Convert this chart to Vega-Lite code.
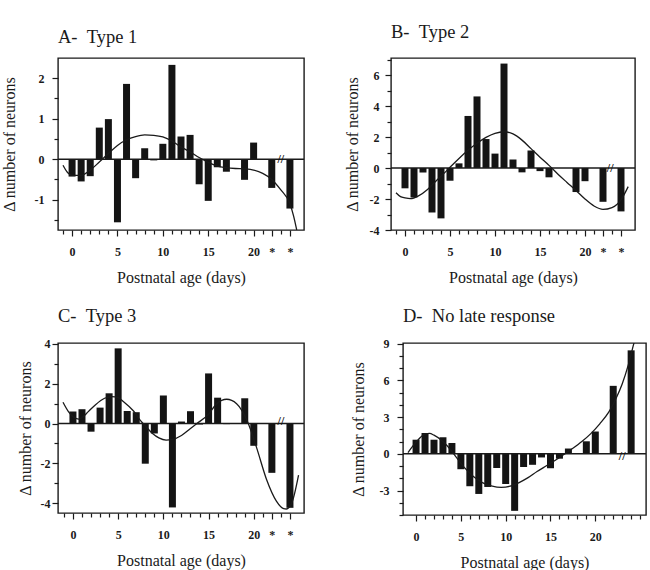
{
  "$schema": "https://vega.github.io/schema/vega-lite/v6.json",
  "background": "white",
  "padding": {"top": 22, "left": 0, "right": 0, "bottom": 0},
  "config": {
    "font": "Liberation Serif",
    "view": {"stroke": "#1a1a1a", "strokeWidth": 1.4},
    "axis": {
      "domain": false,
      "grid": false,
      "tickCount": 100,
      "tickColor": "#1a1a1a",
      "tickWidth": 1.2,
      "labelFont": "Liberation Serif",
      "labelFontSize": 12,
      "labelFontWeight": "bold",
      "labelColor": "#1a1a1a",
      "labelOverlap": false,
      "titleFont": "Liberation Serif",
      "titleFontSize": 16,
      "titleFontWeight": "normal",
      "titleColor": "#1a1a1a"
    },
    "axisX": {"titlePadding": 12, "labelPadding": 10, "labelAngle": 0, "labelFlush": false},
    "title": {
      "font": "Liberation Serif",
      "fontSize": 18.5,
      "fontWeight": "normal",
      "color": "#1a1a1a",
      "anchor": "start",
      "frame": "group",
      "baseline": "alphabetic",
      "offset": 12
    }
  },
  "datasets": {
    "barsA": [
      {"day": 0, "value": -0.43}, {"day": 1, "value": -0.55}, {"day": 2, "value": -0.42},
      {"day": 3, "value": 0.78}, {"day": 4, "value": 0.99}, {"day": 5, "value": -1.56},
      {"day": 6, "value": 1.86}, {"day": 7, "value": -0.47}, {"day": 8, "value": 0.27},
      {"day": 9, "value": -0.03}, {"day": 10, "value": 0.38}, {"day": 11, "value": 2.33},
      {"day": 12, "value": 0.56}, {"day": 13, "value": 0.6}, {"day": 14, "value": -0.62},
      {"day": 15, "value": -1.03}, {"day": 16, "value": -0.2}, {"day": 17, "value": -0.31},
      {"day": 19, "value": -0.51}, {"day": 20, "value": 0.41}, {"day": 22, "value": -0.71},
      {"day": 24, "value": -1.22}
    ],
    "curveA": [
      {"day": -1, "value": -0.15}, {"day": -0.5, "value": -0.33}, {"day": 0, "value": -0.4},
      {"day": 1, "value": -0.4}, {"day": 2, "value": -0.27}, {"day": 3, "value": -0.07},
      {"day": 4, "value": 0.14}, {"day": 5, "value": 0.34}, {"day": 6, "value": 0.48},
      {"day": 7, "value": 0.56}, {"day": 8, "value": 0.6}, {"day": 9, "value": 0.59},
      {"day": 10, "value": 0.55}, {"day": 11, "value": 0.45}, {"day": 12, "value": 0.3},
      {"day": 13, "value": 0.18}, {"day": 14, "value": 0.04}, {"day": 15, "value": -0.08},
      {"day": 16, "value": -0.17}, {"day": 17, "value": -0.21}, {"day": 18, "value": -0.23},
      {"day": 19, "value": -0.24}, {"day": 20, "value": -0.27}, {"day": 21, "value": -0.35},
      {"day": 22, "value": -0.5}, {"day": 23, "value": -0.76}, {"day": 24, "value": -1.1},
      {"day": 24.4, "value": -1.4}, {"day": 24.75, "value": -1.75}
    ],
    "barsB": [
      {"day": 0, "value": -1.31}, {"day": 1, "value": -1.9}, {"day": 2, "value": -0.29},
      {"day": 3, "value": -2.87}, {"day": 4, "value": -3.25}, {"day": 5, "value": -0.82},
      {"day": 6, "value": 0.3}, {"day": 7, "value": 3.36}, {"day": 8, "value": 4.62},
      {"day": 9, "value": 1.87}, {"day": 10, "value": 0.93}, {"day": 11, "value": 6.74},
      {"day": 12, "value": 0.55}, {"day": 13, "value": -0.28}, {"day": 14, "value": 1.13},
      {"day": 15, "value": -0.2}, {"day": 16, "value": -0.6}, {"day": 19, "value": -1.55},
      {"day": 20, "value": -0.85}, {"day": 22, "value": -2.18}, {"day": 24, "value": -2.8}
    ],
    "curveB": [
      {"day": -1, "value": -1.6}, {"day": -0.5, "value": -1.85}, {"day": 0, "value": -1.93},
      {"day": 0.6, "value": -1.98}, {"day": 1.5, "value": -1.8}, {"day": 2.5, "value": -1.38},
      {"day": 3.5, "value": -0.8}, {"day": 4.5, "value": -0.25}, {"day": 5, "value": 0.05},
      {"day": 6, "value": 0.62}, {"day": 7, "value": 1.15}, {"day": 8, "value": 1.6},
      {"day": 9, "value": 1.98}, {"day": 10, "value": 2.24}, {"day": 11, "value": 2.34},
      {"day": 12, "value": 2.2}, {"day": 13, "value": 1.8}, {"day": 14, "value": 1.25},
      {"day": 15, "value": 0.7}, {"day": 16, "value": 0.17}, {"day": 17, "value": -0.4},
      {"day": 18, "value": -0.93}, {"day": 19, "value": -1.45}, {"day": 20, "value": -2.0},
      {"day": 21, "value": -2.45}, {"day": 22, "value": -2.67}, {"day": 23, "value": -2.55},
      {"day": 24, "value": -2.05}, {"day": 24.8, "value": -1.2}
    ],
    "barsC": [
      {"day": 0, "value": 0.61}, {"day": 1, "value": 0.72}, {"day": 2, "value": -0.41},
      {"day": 3, "value": 0.8}, {"day": 4, "value": 1.52}, {"day": 5, "value": 3.78},
      {"day": 6, "value": 0.63}, {"day": 7, "value": 0.57}, {"day": 8, "value": -2.02},
      {"day": 9, "value": -0.5}, {"day": 10, "value": 1.41}, {"day": 11, "value": -4.22},
      {"day": 12, "value": 0.1}, {"day": 13, "value": 0.62}, {"day": 14, "value": -0.05},
      {"day": 15, "value": 2.52}, {"day": 16, "value": 1.3}, {"day": 17, "value": -0.03},
      {"day": 19, "value": 1.27}, {"day": 20, "value": -1.12}, {"day": 22, "value": -2.48},
      {"day": 24, "value": -4.24}
    ],
    "curveC": [
      {"day": -1.1, "value": 1.07}, {"day": -0.5, "value": 0.6}, {"day": 0, "value": 0.35},
      {"day": 0.6, "value": 0.22}, {"day": 1, "value": 0.3}, {"day": 1.7, "value": 0.6},
      {"day": 2.5, "value": 0.95}, {"day": 3.5, "value": 1.27}, {"day": 4.3, "value": 1.35},
      {"day": 5, "value": 1.3}, {"day": 5.6, "value": 1.1}, {"day": 6.7, "value": 0.63},
      {"day": 7.5, "value": 0.13}, {"day": 8, "value": -0.12}, {"day": 8.8, "value": -0.5},
      {"day": 9.5, "value": -0.72}, {"day": 10.3, "value": -0.83}, {"day": 11, "value": -0.8},
      {"day": 12, "value": -0.6}, {"day": 13, "value": -0.25}, {"day": 13.7, "value": 0},
      {"day": 14.9, "value": 0.42}, {"day": 15.9, "value": 1.0}, {"day": 17, "value": 1.22},
      {"day": 18.1, "value": 1.0}, {"day": 19.3, "value": 0.1}, {"day": 20.3, "value": -1.2},
      {"day": 21.4, "value": -2.8}, {"day": 22.5, "value": -3.9}, {"day": 23.3, "value": -4.28},
      {"day": 23.6, "value": -4.3}, {"day": 24.2, "value": -4.0}, {"day": 24.95, "value": -2.6}
    ],
    "barsD": [
      {"day": 0, "value": 1.15}, {"day": 1, "value": 1.7}, {"day": 2, "value": 1.15},
      {"day": 3, "value": 1.35}, {"day": 4, "value": 0.88}, {"day": 5, "value": -1.26},
      {"day": 6, "value": -2.65}, {"day": 7, "value": -3.28}, {"day": 8, "value": -2.71},
      {"day": 9, "value": -1.16}, {"day": 10, "value": -2.47}, {"day": 11, "value": -4.66},
      {"day": 12, "value": -1.08}, {"day": 13, "value": -0.9}, {"day": 14, "value": -0.3},
      {"day": 15, "value": -1.18}, {"day": 16, "value": -0.4}, {"day": 17, "value": 0.43},
      {"day": 19, "value": 1.02}, {"day": 20, "value": 1.82}, {"day": 22, "value": 5.55},
      {"day": 24, "value": 8.45}
    ],
    "curveD": [
      {"day": -0.9, "value": 0.1}, {"day": -0.5, "value": 0.5}, {"day": 0, "value": 0.95},
      {"day": 0.5, "value": 1.35}, {"day": 1, "value": 1.63}, {"day": 1.5, "value": 1.66},
      {"day": 2, "value": 1.52}, {"day": 3, "value": 1.0}, {"day": 4, "value": 0.2},
      {"day": 4.5, "value": -0.3}, {"day": 5.3, "value": -1.05}, {"day": 6.4, "value": -1.85},
      {"day": 7.4, "value": -2.35}, {"day": 8.5, "value": -2.65}, {"day": 9.5, "value": -2.75},
      {"day": 10.5, "value": -2.65}, {"day": 11.5, "value": -2.35}, {"day": 12.5, "value": -1.95},
      {"day": 13.5, "value": -1.45}, {"day": 14.5, "value": -1.0}, {"day": 15.5, "value": -0.55},
      {"day": 16.5, "value": -0.05}, {"day": 17.5, "value": 0.45}, {"day": 18.5, "value": 1.0},
      {"day": 19.5, "value": 1.65}, {"day": 20.5, "value": 2.45}, {"day": 21.5, "value": 3.4},
      {"day": 22.3, "value": 4.5}, {"day": 23, "value": 5.7}, {"day": 23.7, "value": 7.3},
      {"day": 24.3, "value": 9.0}, {"day": 24.5, "value": 9.5}
    ]
  },
  "concat": [
    {
      "spacing": 37,
      "hconcat": [
        {
          "width": 246, "height": 172,
          "title": {"text": "A-\u00a0\u00a0Type 1"},
          "layer": [
            {
              "data": {"name": "barsA"},
              "mark": {"type": "bar", "width": 7, "color": "#141414"},
              "encoding": {
                "x": {"field": "day", "type": "quantitative",
                  "scale": {"domain": [-1, 25], "nice": false, "zero": false},
                  "axis": {"title": "Postnatal age (days)", "labelOverlap": false, "tickCount": 100,
                    "values": [-1,0,1,2,3,4,5,6,7,8,9,10,11,12,13,14,15,16,17,18,19,20,21,22,23,24],
                    "labelExpr": "datum.value == 22 || datum.value == 24 ? '*' : (datum.value >= 0 && datum.value <= 20 && datum.value % 5 == 0 ? '' + datum.value : '')",
                    "tickSize": {"condition": {"test": "(datum.value >= 0 && datum.value <= 20 && datum.value % 5 == 0) || datum.value == 22 || datum.value == 24", "value": 6}, "value": 4}}},
                "y": {"field": "value", "type": "quantitative",
                  "scale": {"domain": [-1.75, 2.5], "nice": false},
                  "axis": {"title": "Δ number of neurons", "labelOverlap": false, "tickCount": 100, "labelPadding": 8, "titlePadding": 17,
                    "values": [-1.5,-1,-0.5,0,0.5,1,1.5,2],
                    "labelExpr": "datum.value % 1 == 0 ? '' + datum.value : ''",
                    "tickSize": {"condition": {"test": "datum.value % 1 == 0", "value": 6}, "value": 4}}}
              }
            },
            {
              "data": {"name": "curveA"},
              "mark": {"type": "line", "interpolate": "monotone", "color": "#1a1a1a", "strokeWidth": 1.3, "clip": true},
              "encoding": {"x": {"field": "day", "type": "quantitative"}, "y": {"field": "value", "type": "quantitative"}}
            },
            {
              "data": {"values": [{}]},
              "mark": {"type": "rule", "color": "#1a1a1a", "strokeWidth": 1.4},
              "encoding": {"y": {"datum": 0}}
            },
            {
              "data": {"values": [{}]},
              "mark": {"type": "text", "text": "//", "fontSize": 12, "fontWeight": "bold", "baseline": "middle", "color": "#111"},
              "encoding": {"x": {"datum": 23}, "y": {"datum": 0}}
            }
          ]
        },
        {
          "width": 244, "height": 172,
          "title": {"text": "B-\u00a0\u00a0Type 2"},
          "layer": [
            {
              "data": {"name": "barsB"},
              "mark": {"type": "bar", "width": 7, "color": "#141414"},
              "encoding": {
                "x": {"field": "day", "type": "quantitative",
                  "scale": {"domain": [-1, 25], "nice": false, "zero": false},
                  "axis": {"title": "Postnatal age (days)", "labelOverlap": false, "tickCount": 100,
                    "values": [-1,0,1,2,3,4,5,6,7,8,9,10,11,12,13,14,15,16,17,18,19,20,21,22,23,24],
                    "labelExpr": "datum.value == 22 || datum.value == 24 ? '*' : (datum.value >= 0 && datum.value <= 20 && datum.value % 5 == 0 ? '' + datum.value : '')",
                    "tickSize": {"condition": {"test": "(datum.value >= 0 && datum.value <= 20 && datum.value % 5 == 0) || datum.value == 22 || datum.value == 24", "value": 6}, "value": 4}}},
                "y": {"field": "value", "type": "quantitative",
                  "scale": {"domain": [-4, 7.1], "nice": false},
                  "axis": {"title": "Δ number of neurons", "labelOverlap": false, "tickCount": 100, "labelPadding": 6, "titlePadding": 9,
                    "values": [-4,-3,-2,-1,0,1,2,3,4,5,6,7],
                    "labelExpr": "datum.value % 2 == 0 ? '' + datum.value : ''",
                    "tickSize": {"condition": {"test": "datum.value % 2 == 0", "value": 6}, "value": 4}}}
              }
            },
            {
              "data": {"name": "curveB"},
              "mark": {"type": "line", "interpolate": "monotone", "color": "#1a1a1a", "strokeWidth": 1.3, "clip": true},
              "encoding": {"x": {"field": "day", "type": "quantitative"}, "y": {"field": "value", "type": "quantitative"}}
            },
            {
              "data": {"values": [{}]},
              "mark": {"type": "rule", "color": "#1a1a1a", "strokeWidth": 1.4},
              "encoding": {"y": {"datum": 0}}
            },
            {
              "data": {"values": [{}]},
              "mark": {"type": "text", "text": "//", "fontSize": 12, "fontWeight": "bold", "baseline": "middle", "color": "#111"},
              "encoding": {"x": {"datum": 22.8}, "y": {"datum": 0}}
            }
          ]
        }
      ]
    },
    {
      "spacing": 43,
      "hconcat": [
        {
          "width": 246, "height": 170,
          "title": {"text": "C-\u00a0\u00a0Type 3"},
          "layer": [
            {
              "data": {"name": "barsC"},
              "mark": {"type": "bar", "width": 7, "color": "#141414"},
              "encoding": {
                "x": {"field": "day", "type": "quantitative",
                  "scale": {"domain": [-1.1, 25], "nice": false, "zero": false},
                  "axis": {"title": "Postnatal age (days)", "labelOverlap": false, "tickCount": 100,
                    "values": [-1,0,1,2,3,4,5,6,7,8,9,10,11,12,13,14,15,16,17,18,19,20,21,22,23,24],
                    "labelExpr": "datum.value == 22 || datum.value == 24 ? '*' : (datum.value >= 0 && datum.value <= 20 && datum.value % 5 == 0 ? '' + datum.value : '')",
                    "tickSize": {"condition": {"test": "(datum.value >= 0 && datum.value <= 20 && datum.value % 5 == 0) || datum.value == 22 || datum.value == 24", "value": 6}, "value": 4}}},
                "y": {"field": "value", "type": "quantitative",
                  "scale": {"domain": [-4.5, 4.05], "nice": false},
                  "axis": {"title": "Δ number of neurons", "labelOverlap": false, "tickCount": 100, "labelPadding": 2, "titlePadding": 7,
                    "values": [-4,-3,-2,-1,0,1,2,3,4],
                    "labelExpr": "datum.value % 2 == 0 ? '' + datum.value : ''",
                    "tickSize": {"condition": {"test": "datum.value % 2 == 0", "value": 6}, "value": 4}}}
              }
            },
            {
              "data": {"name": "curveC"},
              "mark": {"type": "line", "interpolate": "monotone", "color": "#1a1a1a", "strokeWidth": 1.3, "clip": true},
              "encoding": {"x": {"field": "day", "type": "quantitative"}, "y": {"field": "value", "type": "quantitative"}}
            },
            {
              "data": {"values": [{}]},
              "mark": {"type": "rule", "color": "#1a1a1a", "strokeWidth": 1.4},
              "encoding": {"y": {"datum": 0}}
            },
            {
              "data": {"values": [{}]},
              "mark": {"type": "text", "text": "//", "fontSize": 12, "fontWeight": "bold", "baseline": "middle", "color": "#111"},
              "encoding": {"x": {"datum": 23}, "y": {"datum": 0.15}}
            }
          ]
        },
        {
          "width": 243, "height": 172,
          "title": {"text": "D-\u00a0\u00a0No late response"},
          "layer": [
            {
              "data": {"name": "barsD"},
              "mark": {"type": "bar", "width": 7, "color": "#141414"},
              "encoding": {
                "x": {"field": "day", "type": "quantitative",
                  "scale": {"domain": [-0.9, 25.1], "nice": false, "zero": false},
                  "axis": {"title": "Postnatal age (days)", "labelOverlap": false, "tickCount": 100,
                    "values": [0,1,2,3,4,5,6,7,8,9,10,11,12,13,14,15,16,17,18,19,20,21,22,23,24,25],
                    "labelExpr": "datum.value >= 0 && datum.value <= 20 && datum.value % 5 == 0 ? '' + datum.value : ''",
                    "tickSize": {"condition": {"test": "datum.value >= 0 && datum.value <= 20 && datum.value % 5 == 0", "value": 6}, "value": 4}}},
                "y": {"field": "value", "type": "quantitative",
                  "scale": {"domain": [-5, 9.05], "nice": false},
                  "axis": {"title": "Δ number of neurons", "labelOverlap": false, "tickCount": 100, "labelPadding": 8, "titlePadding": 13,
                    "values": [-5,-4,-3,-2,-1,0,1,2,3,4,5,6,7,8,9],
                    "labelExpr": "datum.value % 3 == 0 && datum.value > -5 ? '' + datum.value : ''",
                    "tickSize": {"condition": {"test": "datum.value % 3 == 0", "value": 6}, "value": 4}}}
              }
            },
            {
              "data": {"name": "curveD"},
              "mark": {"type": "line", "interpolate": "monotone", "color": "#1a1a1a", "strokeWidth": 1.3, "clip": true},
              "encoding": {"x": {"field": "day", "type": "quantitative"}, "y": {"field": "value", "type": "quantitative"}}
            },
            {
              "data": {"values": [{}]},
              "mark": {"type": "rule", "color": "#1a1a1a", "strokeWidth": 1.4},
              "encoding": {"y": {"datum": 0}}
            },
            {
              "data": {"values": [{}]},
              "mark": {"type": "text", "text": "//", "fontSize": 12, "fontWeight": "bold", "baseline": "middle", "color": "#111"},
              "encoding": {"x": {"datum": 23}, "y": {"datum": -0.2}}
            }
          ]
        }
      ]
    }
  ],
  "columns": 1,
  "align": "none",
  "spacing": 20
}
